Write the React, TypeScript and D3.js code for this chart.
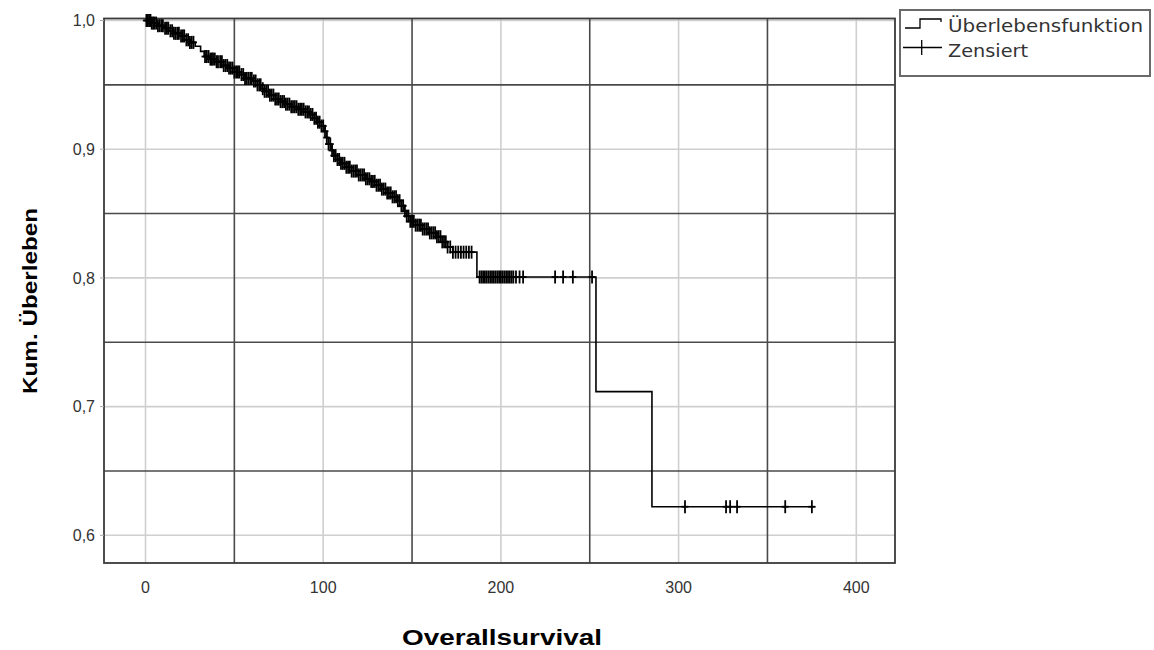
import React from "react";
import * as d3 from "d3";

// Kaplan-Meier step points: [time, survival after step]
const stepTimes = [0, 3, 7, 10, 13, 16, 19, 22, 25, 28, 31, 33, 36, 40, 44, 47, 50, 53, 56, 60, 63, 65, 67, 70, 73, 76, 79, 82, 86, 90, 93, 95, 97, 99, 101, 102, 103, 104.5, 106, 108, 110, 113, 116, 120, 124, 127, 130, 133, 136, 139, 142, 144, 145.5, 147, 149, 152, 156, 160, 164, 167, 170, 173, 186.5, 253.5, 285];
const stepSurvival = [1.0, 0.998, 0.996, 0.994, 0.992, 0.99, 0.988, 0.985, 0.983, 0.98, 0.976, 0.972, 0.97, 0.968, 0.965, 0.963, 0.96, 0.958, 0.955, 0.953, 0.95, 0.947, 0.945, 0.942, 0.939, 0.937, 0.935, 0.933, 0.931, 0.929, 0.927, 0.924, 0.921, 0.918, 0.914, 0.909, 0.904, 0.899, 0.895, 0.892, 0.889, 0.886, 0.883, 0.88, 0.877, 0.875, 0.872, 0.869, 0.866, 0.863, 0.86, 0.856, 0.852, 0.848, 0.844, 0.841, 0.838, 0.835, 0.832, 0.828, 0.824, 0.82, 0.8007, 0.7116, 0.6222];
const lastTime = 377;

// Censored observation times
const censorTimes = [
  0.5, 1.2, 2, 2.8, 3.5, 4.3, 5, 6, 7, 8, 9, 9.8, 11, 12, 12.8, 14, 15, 16, 17, 18, 18.8, 20, 21, 21.8, 23, 24, 25, 26, 27,
  33.5, 34.5, 35.5, 36.5, 37.3, 38, 39, 40, 40.8, 42, 43, 44, 45, 46, 47, 48, 49, 50, 51, 52, 52.8, 54, 55, 56, 57, 58, 59, 59.8, 61, 62, 63, 64, 64.8, 66, 67, 68, 69, 70, 71, 72, 73, 74, 75, 76, 77, 78, 79, 80, 81, 82, 83, 84, 85, 86, 87, 88, 89, 90, 91, 92, 93, 94, 95, 96, 97, 98, 99, 100, 101, 102, 103, 104, 105, 106, 107, 108, 109, 110, 111, 112, 113, 114, 115, 116, 117, 118, 119, 120, 121, 122, 123, 124, 125, 126, 127, 128, 129, 130, 131, 132, 133, 134, 135, 136, 137, 138, 139, 140, 141, 142, 143, 144, 145, 146, 147, 148, 149, 150, 151, 152, 153, 154, 155, 156, 157, 158, 159, 160, 161, 162, 163, 164, 165, 166, 167, 168, 169, 170, 171.5, 173, 174.5, 176, 177.5, 179, 180.5, 182, 183.5,
  188, 189, 190, 191, 192, 193, 194, 195, 196, 197, 198, 199, 200, 201, 202, 203, 204, 205, 206, 207, 208.5, 210.5, 212.5, 230.5, 235, 240.5, 251.3,
  303.6, 326.7, 329, 332.9, 360, 375,
];

const xTicks = [0, 100, 200, 300, 400];
const xHalfTicks = [50, 150, 250, 350];
const yTicks = [0.6, 0.7, 0.8, 0.9, 1.0];
const yHalfTicks = [0.65, 0.75, 0.85, 0.95];
const fmtY = (v: number) => v.toFixed(1).replace(".", ",");

const FONT = "'Liberation Sans', Arial, sans-serif";

export default function App() {
  const x = d3.scaleLinear().domain([0, 400]).range([145.5, 856.3]);
  const y = d3.scaleLinear().domain([0.6, 1.0]).range([535.3, 20.5]);
  const left = 104, right = 895, top = 18.5, bottom = 563;

  const pts: [number, number][] = stepTimes.map((t, i) => [t, stepSurvival[i]]);
  pts.push([lastTime, stepSurvival[stepSurvival.length - 1]]);
  const line = d3.line<[number, number]>().x(d => x(d[0])).y(d => y(d[1])).curve(d3.curveStepAfter);

  const survAt = (t: number) => {
    let s = stepSurvival[0];
    for (let i = 0; i < stepTimes.length; i++) if (stepTimes[i] <= t) s = stepSurvival[i];
    return s;
  };

  return (
    <svg width={1154} height={650} style={{ position: "absolute", left: 0, top: 0, background: "#fff" }} fontFamily={FONT}>
      <rect x={0} y={0} width={1154} height={650} fill="#fff" />
      {/* light grid */}
      {xTicks.map(t => (
        <line key={"xl" + t} x1={x(t)} x2={x(t)} y1={top} y2={bottom} stroke="#cfcfcf" strokeWidth={1.6} />
      ))}
      {yTicks.map(v => (
        <line key={"yl" + v} x1={left} x2={right} y1={y(v)} y2={y(v)} stroke="#cfcfcf" strokeWidth={1.6} />
      ))}
      {/* dark grid */}
      {xHalfTicks.map(t => (
        <line key={"xd" + t} x1={x(t)} x2={x(t)} y1={top} y2={bottom} stroke="#4a4a4a" strokeWidth={1.6} />
      ))}
      {yHalfTicks.map(v => (
        <line key={"yd" + v} x1={left} x2={right} y1={y(v)} y2={y(v)} stroke="#4a4a4a" strokeWidth={1.6} />
      ))}
      {/* frame */}
      <rect x={left} y={top} width={right - left} height={bottom - top} fill="none" stroke="#3a3a3a" strokeWidth={1.8} />
      {/* y ticks */}
      {yTicks.map(v => (
        <line key={"yt" + v} x1={left - 4} x2={left} y1={y(v)} y2={y(v)} stroke="#aaa" strokeWidth={1} />
      ))}
      {yTicks.map(v => (
        <text key={"ytl" + v} x={95} y={y(v)} dy="0.35em" textAnchor="end" fontSize={16} fill="#333">{fmtY(v)}</text>
      ))}
      {xTicks.map(t => (
        <text key={"xtl" + t} x={x(t)} y={593} textAnchor="middle" fontSize={16} fill="#333">{t}</text>
      ))}
      {/* curve */}
      <path d={line(pts) || ""} fill="none" stroke="#000" strokeWidth={1.6} />
      {censorTimes.map((t, i) => {
        const cx = x(t), cy = y(survAt(t));
        return (
          <g key={"c" + i} stroke="#000" strokeWidth={1.8}>
            <line x1={cx} x2={cx} y1={cy - 6.5} y2={cy + 6.5} />
            <line x1={cx - 3.5} x2={cx + 3.5} y1={cy} y2={cy} />
          </g>
        );
      })}
      {/* axis titles */}
      <text x={502} y={645} textAnchor="middle" fontSize={22} fontWeight="bold" fill="#000" textLength={200} lengthAdjust="spacingAndGlyphs">Overallsurvival</text>
      <text transform="translate(37,301) rotate(-90)" textAnchor="middle" fontSize={20} fontWeight="bold" fill="#000" textLength={186} lengthAdjust="spacingAndGlyphs">Kum. Überleben</text>
      {/* legend */}
      <rect x={900} y={10} width={250} height={66} fill="#fff" stroke="#6a6a6a" strokeWidth={2} />
      <path d="M905,28 H920 V19 H941 V22" fill="none" stroke="#000" strokeWidth={1.3} />
      <line x1={903} x2={942} y1={47.5} y2={47.5} stroke="#000" strokeWidth={1.3} />
      <line x1={921.7} x2={921.7} y1={40} y2={55} stroke="#000" strokeWidth={1.3} />
      <text x={948} y={31.5} fontSize={17} fontFamily="'DejaVu Sans', sans-serif" fill="#333" textLength={195} lengthAdjust="spacingAndGlyphs">Überlebensfunktion</text>
      <text x={948} y={56.5} fontSize={17} fontFamily="'DejaVu Sans', sans-serif" fill="#333" textLength={80} lengthAdjust="spacingAndGlyphs">Zensiert</text>
    </svg>
  );
}
